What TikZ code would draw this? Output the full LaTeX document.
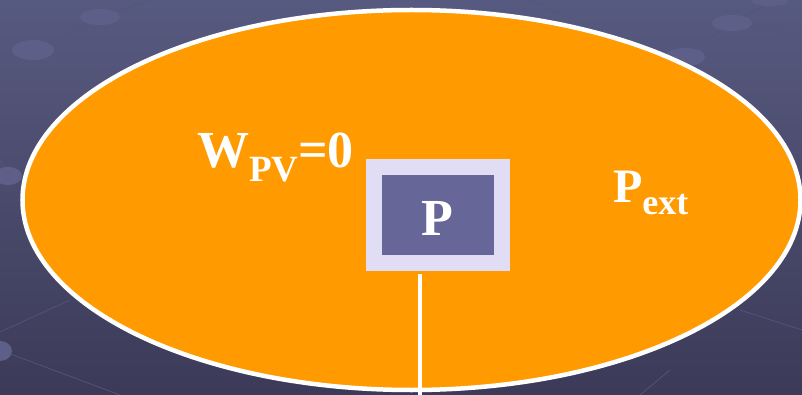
\documentclass[tikz,border=0pt]{standalone}
\usepackage{fontspec}
\setmainfont{Liberation Serif}
\usetikzlibrary{positioning,calc}
\definecolor{bgtop}{HTML}{575A80}
\definecolor{bgbot}{HTML}{3C3A58}
\definecolor{dotfill}{HTML}{5E5F88}
\definecolor{gridline}{HTML}{545579}
\definecolor{gasorange}{HTML}{FF9A00}
\definecolor{lavender}{HTML}{E0DDF5}
\definecolor{pistonblue}{HTML}{666699}

\begin{document}
\begin{tikzpicture}[
    x=1pt, y=1pt,
    every node/.style={inner sep=0pt, outer sep=0pt},
    biglabel/.style={text=white, font=\fontsize{52}{56}\bfseries\selectfont},
    bgdot/.style={fill=dotfill},
]

% Background
\useasboundingbox (0,0) rectangle (802,-395);
\shade[top color=bgtop, bottom color=bgbot] (0,0) rectangle (802,-395);

% Faint grid and dots
\draw[gridline, line width=0.7pt] (0,-62) -- (33,-50) -- (100,-17) -- (150,0);
\draw[gridline, line width=0.7pt] (0,-160) -- (8,-175);
\draw[gridline, line width=0.7pt] (0,-332) -- (70,-300);
\draw[gridline, line width=0.7pt] (0,-350) -- (120,-395);
\draw[gridline, line width=0.7pt] (530,0) -- (560,-14);
\draw[gridline, line width=0.7pt] (683,-57) -- (732,-23) -- (775,0);
\draw[gridline, line width=0.7pt] (732,-23) -- (802,-36);
\draw[gridline, line width=0.7pt] (740,-310) -- (802,-330);
\draw[gridline, line width=0.7pt] (640,-395) -- (670,-370);
\fill[bgdot] (100,-17) ellipse (20 and 8);
\fill[bgdot] (33,-50) ellipse (21 and 10);
\fill[bgdot] (8,-176) ellipse (14 and 9);
\fill[bgdot] (0,-351) ellipse (12 and 10);
\fill[bgdot] (732,-23) ellipse (20 and 8);
\fill[bgdot] (685,-57) ellipse (20 and 9);
\fill[bgdot] (770,-1) ellipse (18 and 5);

% Gas (orange ellipse)
\filldraw[fill=gasorange, draw=white, line width=4.5pt] (411.5,-200) ellipse (389 and 190);

% Piston
\node[fill=pistonblue, draw=lavender, line width=16pt,
      minimum width=128pt, minimum height=96pt] (piston) at (438,-215) {};
\node[biglabel, anchor=base] (plabel) at (437.5,-235) {P};

% Rod
\coordinate (rodtop) at (419.5,-274);
\coordinate (rodend) at (419.5,-396);
\draw[white, line width=4pt] (rodtop) -- (rodend);

% Labels
\node[biglabel, anchor=base west] (work) at (197,-168)
    {W\raisebox{-14pt}{\fontsize{37}{40}\selectfont PV}=0};
\node[biglabel, anchor=base west, font=\fontsize{48}{52}\bfseries\selectfont] (pext) at (613,-203)
    {P\raisebox{-12pt}{\fontsize{36}{40}\selectfont ext}};

\end{tikzpicture}
\end{document}
